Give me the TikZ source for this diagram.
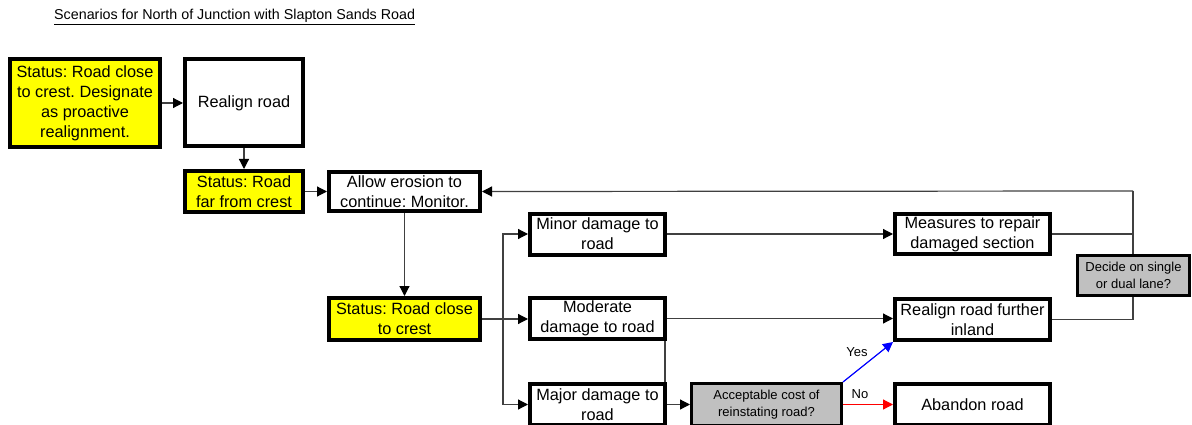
\documentclass[tikz,border=0pt]{standalone}
\usepackage{fontspec}
\setmainfont{Liberation Sans}
\frenchspacing
\usetikzlibrary{arrows.meta}
\definecolor{ylw}{HTML}{FFFF00}
\definecolor{gry}{HTML}{C0C0C0}
\definecolor{ln}{HTML}{404040}
\tikzset{
  box/.style={draw=black, line width=4pt, fill=white, inner sep=0pt, align=center,
    font=\fontsize{16.3}{20}\selectfont},
  ybox/.style={box, fill=ylw},
  gbox/.style={draw=black, line width=3.3pt, fill=gry, inner sep=0pt, align=center,
    font=\fontsize{13}{16.3}\selectfont},
  conn/.style={draw=ln, line width=1.2pt},
  arr/.style={conn, -{Triangle[length=10pt,width=10pt,fill=black,color=black]}},
  lbl/.style={font=\fontsize{13}{15}\selectfont, inner sep=0pt}
}
\begin{document}
\begin{tikzpicture}[x=1pt,y=-1pt]
\useasboundingbox (0,0) rectangle (1192,425);
\clip (0,0) rectangle (1192,425);
% title
\node[anchor=base west, inner sep=0pt, font=\fontsize{14.3}{16}\selectfont] (title) at (54,20)
  {\underline{Scenarios for North of Junction with Slapton Sands Road}};
% nodes
\node[ybox, minimum width=150pt, minimum height=88pt] (A) at (85,103)
  {Status: Road close\\to crest. Designate\\as proactive\\realignment.};
\node[box, minimum width=118pt, minimum height=87pt] (R) at (244,103) {Realign road};
\node[ybox, minimum width=118pt, minimum height=41pt] (F) at (244,191.5) {Status: Road\\far from crest};
\node[box, minimum width=151pt, minimum height=39pt] (Al) at (404.5,191.5) {Allow erosion to\\continue: Monitor.};
\node[ybox, minimum width=151pt, minimum height=42pt] (C) at (404.5,319) {Status: Road close\\to crest};
\node[box, minimum width=135pt, minimum height=41pt] (Mi) at (597.5,234) {Minor damage to\\road};
\node[box, minimum width=135pt, minimum height=41pt] (Mo) at (597.5,318.5) {Moderate\\damage to road};
\node[box, minimum width=135pt, minimum height=41pt] (Ma) at (597.5,404.5) {Major damage to\\road};
\node[box, minimum width=155pt, minimum height=40pt] (Me) at (972.5,234) {Measures to repair\\damaged section};
\node[box, minimum width=155pt, minimum height=41pt] (Rf) at (972.5,319.5) {Realign road further\\inland};
\node[box, minimum width=155pt, minimum height=41pt] (Ab) at (972.5,404.5) {Abandon road};
\node[gbox, minimum width=149.7pt, minimum height=41.7pt] (Ac) at (766.5,404.5) {Acceptable cost of\\reinstating road?};
\node[lbl] (yes) at (857,352) {Yes};
\node[lbl] (no) at (860,394) {No};
% connectors
\draw[arr] (A.east) -- (R.west);
\draw[arr] (R.south) -- (F.north);
\draw[arr] (F.east) -- (Al.west);
\draw[arr] (Al.south) -- (C.north);
\draw[arr] (C.east) -- (C.east -| Mo.west);
\coordinate (br) at (503,319);
\draw[arr] (br) |- (Mi.west);
\draw[arr] (br) |- (Ma.west);
\draw[arr] (Mi.east) -- (Me.west);
\draw[arr] (Mo.east) -- (Mo.east -| Rf.west);
\draw[conn] ([xshift=-2pt]Mo.south east) -- ([xshift=-2pt]Ma.north east);
\draw[arr] (Ma.east) -- (Ac.west);
\draw[line width=1.2pt, draw=blue, -{Triangle[length=10pt,width=10pt,fill=blue,color=blue]}]
  (Ac.north east) -- (Rf.south west);
\draw[line width=1.2pt, draw=red, -{Triangle[length=10pt,width=10pt,fill=red,color=red]}]
  (Ac.east) -- (Ab.west);
\coordinate (top) at (1133,191);
\draw[conn] (Rf.east) -| (top);
\draw[conn] (Me.east) -- (Me.east -| top);
\draw[arr] (top) -- (Al.east);
\node[gbox, minimum width=111.7pt, minimum height=39.7pt] (D) at (1133.5,275.5) {Decide on single\\or dual lane?};
\end{tikzpicture}
\end{document}
